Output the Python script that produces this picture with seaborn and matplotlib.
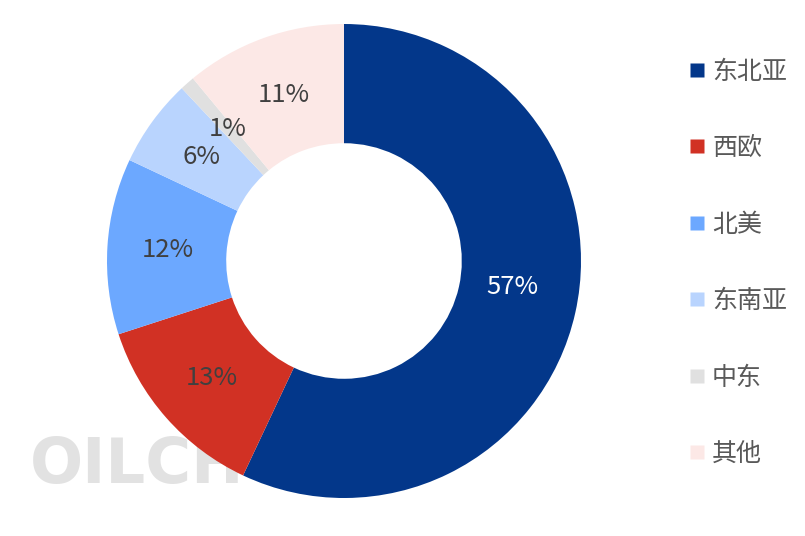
import seaborn as sns
import matplotlib.pyplot as plt
import matplotlib.lines as mlines
import pandas as pd
import numpy as np

# data
regions = ["东北亚", "西欧", "北美", "东南亚", "中东", "其他"]
shares = [57, 13, 12, 6, 1, 11]
colors = ["#03378a", "#d13124", "#6ca8ff", "#b9d4fe", "#e0e0e0", "#fce8e6"]
label_colors = ["white", "#404040", "#404040", "#404040", "#404040", "#404040"]

df = pd.DataFrame({"region": regions, "share": shares})

sns.set_theme(style="white")
plt.rcParams["font.family"] = ["Noto Sans CJK SC", "DejaVu Sans"]

fig = plt.figure(figsize=(8.05, 5.36), dpi=100)
ax = fig.add_axes([107 / 805, 38 / 536, 474 / 805, 474 / 536])

palette = sns.color_palette(colors)

# watermark behind the ring
ax.text(30 / 805, 40 / 536, "OILCH", transform=fig.transFigure, fontsize=45,
        fontweight="bold", color="#e2e2e2", family="DejaVu Sans",
        ha="left", va="bottom", zorder=0, clip_on=False)

wedges, _ = ax.pie(df["share"], colors=palette, startangle=90, counterclock=False,
                   radius=1.0, wedgeprops=dict(width=0.503, edgecolor="none", zorder=1))

# percentage labels in the middle of the ring
r_lab = 0.745
for i, w in enumerate(wedges):
    ang = np.deg2rad((w.theta1 + w.theta2) / 2)
    x, y = r_lab * np.cos(ang), r_lab * np.sin(ang)
    if i == 0:
        ang = np.deg2rad(-8.8)
        x, y = 0.717 * np.cos(ang), 0.717 * np.sin(ang)
    ax.text(x, y, f"{df['share'][i]}%", ha="center", va="center",
            fontsize=18.5, color=label_colors[i], zorder=3)

ax.set_xlim(-1, 1)
ax.set_ylim(-1, 1)
ax.set_aspect("equal")
ax.axis("off")

handles = [mlines.Line2D([], [], marker="s", linestyle="none", markersize=10.5,
                         markerfacecolor=c, markeredgecolor="none") for c in colors]
fig.legend(handles, regions, loc="upper left", bbox_to_anchor=(672 / 805, 1 - 46 / 536),
           frameon=False, fontsize=18, labelspacing=2.02, handletextpad=0.1,
           handlelength=1.0, labelcolor="#595959", borderpad=0)

fig.savefig("out.png", dpi=100)
plt.close(fig)
